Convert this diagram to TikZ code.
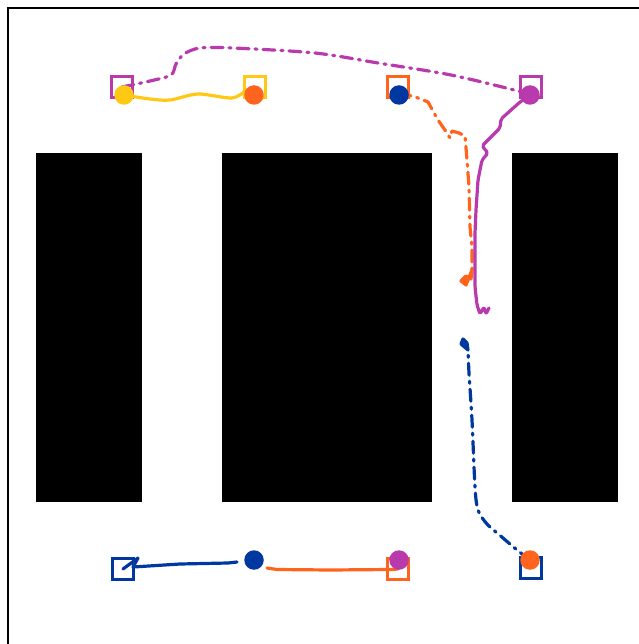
\documentclass[tikz,border=0pt]{standalone}
\definecolor{cP}{RGB}{184,58,172}
\definecolor{cY}{RGB}{255,200,20}
\definecolor{cO}{RGB}{255,100,30}
\definecolor{cB}{RGB}{0,56,160}
\begin{document}
\begin{tikzpicture}[x=1pt,y=-1pt,
  goal/.style={draw,line width=3.6pt,minimum size=21pt,inner sep=0pt},
  bot/.style={circle,fill,minimum size=19.5pt,inner sep=0pt},
  traj/.style={line width=3.2pt,line join=round,line cap=round},
  dd/.style={traj,dash pattern=on 12pt off 6pt on 2pt off 6pt},
  obst/.style={fill=black}]
\useasboundingbox (0,0) rectangle (638,644);
\draw[line width=1.6pt] (8,660) -- (8,8) -- (660,8);
% obstacles
\fill[obst] (36,153) rectangle (142,502);
\fill[obst] (222,153) rectangle (432,502);
\fill[obst] (512,153) rectangle (618,502);
% goals
\node[goal,cP] (gP1) at (122,87) {};
\node[goal,cY] (gY)  at (255,87) {};
\node[goal,cO] (gO1) at (398,87) {};
\node[goal,cP] (gP2) at (531,87) {};
\node[goal,cB] (gB1) at (123,569) {};
\node[goal,cO] (gO2) at (398,569) {};
\node[goal,cB] (gB2) at (531,568) {};
\coordinate (b2s) at (237,562);
\coordinate (o2s) at (267,568);
\coordinate (oEnd) at (472,270);
\coordinate (bEnd) at (468,350);
\coordinate (pEnd) at (477,305);
% trajectories
\draw[traj,cY] plot[smooth,tension=0.5] coordinates {(124,95) (150,99) (170,100) (198,94) (232,98) (247,90) (gY.center)};
\draw[dd,cP] plot[smooth,tension=0.5] coordinates {(gP1.center) (150,81) (171,75) (176,64) (184,54) (200,48) (233,48) (315,53) (378,63) (451,75) (518,91) (530,95)};
\draw[dd,cO] (399,95) -- (413,96) -- (428,102) -- (438,120) -- (447,133) -- (450,138) -- (452,131) -- (459,133) -- (465,136) -- (467,160) -- (469,187) -- (470,227) -- (472,247) -- (oEnd);
\draw[traj,cO,fill=cO] (oEnd) -- (471,279) -- (466,276) -- (461,281) -- (466,285) -- cycle;
\draw[traj,cP,rounded corners=2pt] (530,95) -- (520,102) -- (501,119) -- (500,128) -- (491,137) -- (482,146) -- (488,153) -- (482,160) -- (478,180) -- (476,210) -- (475,233) -- (475,287) -- (pEnd) -- (480,314) -- (484,307) -- (486,314) -- (489,308);
\draw[dd,cB] plot[smooth,tension=0.5] coordinates {(530,560) (517,550) (503,538) (487,524) (478,510) (475,487) (472,420) (469,373) (bEnd)};
\draw[traj,cB,fill=cB] (bEnd) -- (467,343) -- (463,339) -- (461,344) -- cycle;
\draw[traj,cB] (b2s) -- (228,563) -- (180,564) -- (133,567) -- (138,558) -- (gB1.center);
\draw[traj,cO] (o2s) -- (277,569.5) -- (330,570) -- (390,569.5) -- (gO2.center);
% robots
\node[bot,cY] (rY)  at (124,95) {};
\node[bot,cO] (rO1) at (254,95) {};
\node[bot,cB] (rB1) at (399,95) {};
\node[bot,cP] (rP1) at (530,95) {};
\node[bot,cB] (rB2) at (254,560) {};
\node[bot,cP] (rP2) at (399,560) {};
\node[bot,cO] (rO2) at (530,560) {};
\end{tikzpicture}
\end{document}
